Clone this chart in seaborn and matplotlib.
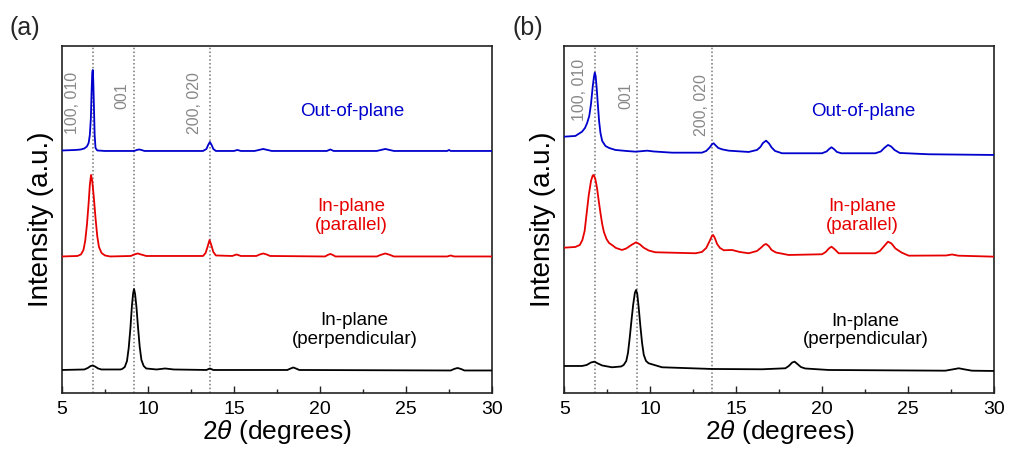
import numpy as np
import pandas as pd
import matplotlib
matplotlib.use('Agg')
import matplotlib.pyplot as plt
from matplotlib.ticker import MultipleLocator
import seaborn as sns

# peak positions marked by dotted lines
ref_pos = [6.8, 9.2, 13.6]
ref_labels = ['100, 010', '001', '200, 020']

# ---- panel (a): traces (2theta, intensity a.u.)
a_oop_x = [5.0, 5.8, 6.1, 6.3, 6.45, 6.55, 6.62, 6.68, 6.72, 6.76, 6.79, 6.82, 6.86, 6.9, 6.95, 7.05, 7.5,
           9.2, 9.35, 9.5, 9.65, 9.8, 13.2, 13.4, 13.5, 13.6, 13.7, 13.8, 13.95, 15.0, 15.2, 15.4, 16.2,
           16.5, 16.7, 16.9, 17.2, 20.4, 20.6, 20.8, 23.3, 23.6, 23.8, 24.0, 24.3, 27.4, 27.5, 27.6, 30.0]
a_oop_y = [242.5, 243, 243.5, 244.5, 246.5, 250, 258, 275, 300, 320, 323, 312, 285, 258, 245, 242.5, 242,
           242, 243, 243.5, 242.8, 242, 242, 244, 248, 251, 248, 244, 242, 242, 243, 242, 242,
           243.2, 244, 243.2, 242, 242, 243.5, 242, 242, 243.2, 244, 243.2, 242, 242, 243, 242, 242]

a_par_x = [5.0, 5.9, 6.1, 6.25, 6.35, 6.45, 6.55, 6.62, 6.69, 6.76, 6.85, 6.95, 7.05, 7.15, 7.3, 7.5, 7.8,
           9.0, 9.2, 9.4, 9.6, 9.9, 13.2, 13.35, 13.48, 13.58, 13.68, 13.8, 13.95, 14.9, 15.15, 15.4,
           16.3, 16.5, 16.7, 16.9, 17.1, 20.3, 20.45, 20.6, 20.75, 20.9, 23.3, 23.55, 23.8, 24.05, 24.3,
           27.4, 27.6, 27.8, 30.0]
a_par_y = [136.5, 137, 138.5, 143, 152, 168, 190, 208, 218, 212, 196, 175, 157, 146, 140, 137.5, 136.5,
           137, 138.5, 139.5, 138.5, 137, 137, 140, 147, 153, 148, 141, 137.5, 137, 138.5, 137,
           137, 138.5, 139.5, 138.5, 137, 136.5, 138, 139, 138, 136.5, 136.5, 138.2, 139.5, 138.2, 136.5,
           136.5, 137.5, 136.5, 136.5]

a_perp_x = [5.0, 6.3, 6.5, 6.65, 6.78, 6.92, 7.1, 7.3, 8.4, 8.5, 8.65, 8.78, 8.88, 8.98, 9.07, 9.14, 9.19,
            9.25, 9.33, 9.42, 9.52, 9.62, 9.75, 9.9, 10.5, 11.0, 11.5, 13.4, 13.6, 13.8, 18.1, 18.3,
            18.45, 18.6, 18.8, 27.6, 27.8, 28.0, 28.2, 28.4, 30.0]
a_perp_y = [23, 23.5, 25, 26.8, 27.5, 26.5, 24.5, 23.5, 23.5, 24, 26, 32, 45, 65, 88, 100, 104,
            99, 86, 66, 46, 33, 27, 24.5, 23.5, 24.5, 23.5, 23, 24.5, 23, 23, 24.5,
            25.5, 24.5, 23, 22.5, 24, 25, 24, 22.5, 22.5]

# ---- panel (b)
b_oop_x = [5.0, 5.64, 6.03, 6.2, 6.32, 6.45, 6.55, 6.65, 6.72, 6.77, 6.82, 6.88, 6.95, 7.02, 7.1, 7.2,
           7.39, 7.6, 7.97, 8.6, 9.13, 9.5, 9.81, 10.2, 11.26, 13.0, 13.25, 13.45, 13.6, 13.68, 13.8,
           13.95, 14.2, 14.56, 15.72, 16.2, 16.4, 16.55, 16.73, 16.9, 17.05, 17.25, 17.66, 19.98, 20.25,
           20.4, 20.53, 20.67, 20.85, 21.1, 23.08, 23.4, 23.6, 23.82, 24.0, 24.2, 24.5, 26.18, 30.0]
b_oop_y = [256.3, 257, 261.3, 265, 269.7, 277, 289, 306.3, 316, 320.3, 317, 305, 288, 272, 260, 252,
           247, 245, 243, 242, 241.3, 241.8, 242.3, 241.5, 240.3, 240.3, 242, 245.5, 249, 249.7, 247.5,
           245, 243.5, 242.3, 241, 243, 246, 250, 252.3, 249.5, 245.5, 242, 239.7, 239.7, 241.5,
           244, 245.7, 244, 241, 239.7, 239.7, 241.5, 245, 248, 246.5, 243, 240, 238.7, 238]

b_par_x = [5.0, 5.64, 5.9, 6.05, 6.18, 6.3, 6.42, 6.55, 6.65, 6.71, 6.8, 6.9, 7.0, 7.1, 7.2, 7.3, 7.45,
           7.6, 7.77, 8.0, 8.35, 8.6, 8.9, 9.17, 9.4, 9.61, 9.9, 10.29, 12.62, 13.0, 13.25, 13.45, 13.58,
           13.65, 13.75, 13.88, 14.05, 14.27, 14.75, 15.2, 15.72, 16.2, 16.45, 16.6, 16.73, 16.88, 17.05,
           17.3, 18.04, 19.98, 20.2, 20.38, 20.53, 20.7, 20.95, 23.08, 23.35, 23.6, 23.82, 24.02, 24.25,
           24.6, 25.02, 27.2, 27.54, 27.9, 30.0]
b_par_y = [145.3, 146, 148, 153, 162, 180, 198, 212, 217.5, 218, 214, 205, 192, 180, 169, 161, 154,
           150, 148, 145, 143, 144.5, 148, 150.7, 148.5, 145.3, 142.5, 140.7, 139.7, 141, 145, 152, 157,
           158, 155, 149, 145, 142.7, 143, 141, 139.7, 142, 145.5, 148, 149, 147, 143,
           140.5, 138, 138.7, 141, 144.5, 146.3, 144, 139.7, 139.7, 142, 147, 151.3, 149.5, 144.5,
           140.5, 137.3, 137.5, 138.5, 137.3, 136.3]

b_perp_x = [5.0, 6.03, 6.3, 6.55, 6.75, 6.95, 7.2, 7.77, 8.3, 8.45, 8.6, 8.7, 8.8, 8.9, 9.0, 9.1, 9.17,
            9.24, 9.32, 9.42, 9.52, 9.62, 9.75, 9.9, 10.68, 13.59, 16.49, 17.85, 18.05, 18.25, 18.39,
            18.55, 18.75, 19.0, 20.37, 27.15, 27.55, 27.93, 28.3, 28.7, 30.0]
b_perp_y = [27, 27, 28, 30.5, 31.3, 29.5, 27.5, 25.7, 26.5, 28, 32, 40, 55, 72, 88, 100, 103,
            99, 86, 67, 50, 38, 32, 29.7, 25.7, 24, 23.7, 24.7, 27, 30.5, 31.3,
            29, 26, 24.5, 23, 22.3, 23.5, 24.7, 23.5, 22.3, 22]

series_names = ['Out-of-plane', 'In-plane\n(parallel)', 'In-plane\n(perpendicular)']
colors = ['#0000cc', '#e60000', 'black']

panels = [
    ('(a)', [(a_oop_x, a_oop_y), (a_par_x, a_par_y), (a_perp_x, a_perp_y)],
     [(21.86, 281), (21.8, 177), (22.0, 63)],
     [(5.62, 321), (8.47, 311), (12.73, 321)]),
    ('(b)', [(b_oop_x, b_oop_y), (b_par_x, b_par_y), (b_perp_x, b_perp_y)],
     [(22.38, 281), (22.3, 177), (22.5, 62.5)],
     [(5.87, 334), (8.59, 311), (12.99, 319)]),
]

sns.set_style('ticks')
plt.rcParams['font.family'] = ['Liberation Sans', 'DejaVu Sans']
plt.rcParams['mathtext.fontset'] = 'custom'
plt.rcParams['mathtext.it'] = 'Liberation Sans:italic'

fig = plt.figure(figsize=(10.11, 4.55), dpi=100)
lefts = [0.0613, 0.5582]
tag_x = [0.025, 0.522]
axes = [fig.add_axes([l, 0.1363, 0.4253, 0.7627]) for l in lefts]

for ax, tx0, (tag, traces, txt_pos, ref_txt_pos) in zip(axes, tag_x, panels):
    for p in ref_pos:
        ax.axvline(p, color='#777777', ls=(0, (1, 1.5)), lw=1.1, zorder=1)
    for (xs, ys), c in zip(traces, colors):
        df = pd.DataFrame({'two_theta': xs, 'intensity': ys})
        sns.lineplot(data=df, x='two_theta', y='intensity', color=c, lw=1.3, ax=ax,
                     estimator=None, sort=False, zorder=3, solid_joinstyle='round')
    for name, c, (tx, ty) in zip(series_names, colors, txt_pos):
        ax.text(tx, ty, name, color=c, fontsize=13.5, ha='center', va='center', linespacing=1.15)
    for lab, (tx, ty) in zip(ref_labels, ref_txt_pos):
        ax.text(tx, ty, lab, color='#888888', fontsize=11.5, rotation=90, ha='center', va='top')

    ax.set_xlim(5, 30)
    ax.set_ylim(0, 347)
    ax.set_yticks([])
    ax.xaxis.set_major_locator(MultipleLocator(5))
    ax.xaxis.set_minor_locator(MultipleLocator(2.5))
    ax.tick_params(axis='x', which='major', direction='in', length=5, width=1, labelsize=14, pad=6,
                   labelcolor='black', color='#222222')
    ax.tick_params(axis='x', which='minor', direction='in', length=3, width=1, color='#222222')
    for sp in ax.spines.values():
        sp.set_linewidth(1.2)
        sp.set_color('#222222')
    ax.set_xlabel(r'2$\it{\theta}$ (degrees)', fontsize=19, labelpad=0, color='black')
    ax.set_ylabel('Intensity (a.u.)', fontsize=20, labelpad=6, color='black')
    fig.text(tx0, 0.938, tag, fontsize=18, ha='center', va='center')

fig.savefig('out.png', dpi=100)
